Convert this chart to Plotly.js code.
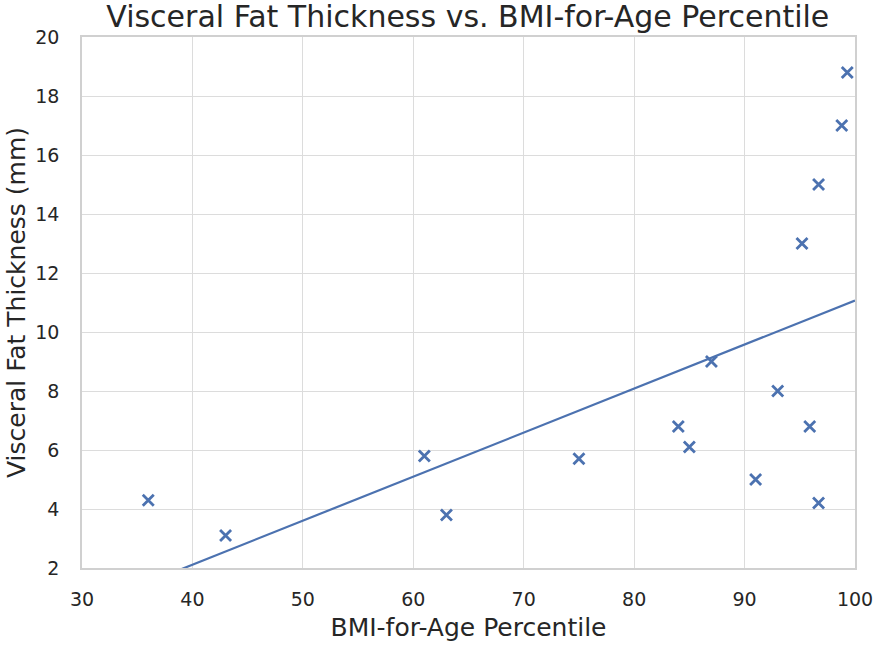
<!DOCTYPE html>
<html>
<head>
<meta charset="utf-8">
<script src="https://cdn.plot.ly/plotly-3.0.1.min.js"></script>
<style>
  html, body { margin: 0; padding: 0; background: #fff; }
  #chart { width: 881px; height: 657px; }
</style>
</head>
<body>
<div id="chart"></div>
<script>
// BMI-for-age percentile vs visceral fat thickness (mm)
const bmiPercentile = [36, 43, 61, 63, 75, 84, 85, 87, 91, 93, 95.2, 95.9, 96.7, 96.7, 98.8, 99.3];
const fatThickness  = [4.3, 3.1, 5.8, 3.8, 5.7, 6.8, 6.1, 9.0, 5.0, 8.0, 13.0, 6.8, 15.0, 4.2, 17.0, 18.8];
const xTicks = [30, 40, 50, 60, 70, 80, 90, 100];
const yTicks = [2, 4, 6, 8, 10, 12, 14, 16, 18, 20];

// least squares fit for the trend line
function linearFit(xs, ys) {
  const n = xs.length;
  const mx = xs.reduce((a, b) => a + b, 0) / n;
  const my = ys.reduce((a, b) => a + b, 0) / n;
  let sxy = 0, sxx = 0;
  for (let i = 0; i < n; i++) {
    sxy += (xs[i] - mx) * (ys[i] - my);
    sxx += (xs[i] - mx) * (xs[i] - mx);
  }
  const slope = sxy / sxx;
  return { slope: slope, intercept: my - slope * mx };
}

const fit = linearFit(bmiPercentile, fatThickness);
const lineX = [xTicks[0], xTicks[xTicks.length - 1]];
const lineY = lineX.map(x => fit.intercept + fit.slope * x);

const blue = '#4c72b0';
const font = 'DejaVu Sans, sans-serif';

const points = {
  x: bmiPercentile,
  y: fatThickness,
  type: 'scatter',
  mode: 'markers',
  marker: { symbol: 'x-thin', size: 11, color: blue, line: { color: blue, width: 2.8 } },
  hoverinfo: 'x+y'
};

const trend = {
  x: lineX,
  y: lineY,
  type: 'scatter',
  mode: 'lines',
  line: { color: blue, width: 2.2 },
  hoverinfo: 'skip'
};

const layout = {
  width: 881,
  height: 657,
  margin: { l: 82, r: 26, t: 37, b: 89 },
  paper_bgcolor: '#fff',
  plot_bgcolor: '#fff',
  showlegend: false,
  font: { family: font, color: '#262626' },
  title: {
    text: 'Visceral Fat Thickness vs. BMI-for-Age Percentile',
    font: { family: font, size: 30, color: '#262626' },
    x: 0.531, xanchor: 'center', y: 1, yanchor: 'top',
    pad: { t: 6 }
  },
  xaxis: {
    range: [30, 100],
    tickvals: xTicks,
    ticks: '',
    ticklabelstandoff: 13,
    tickfont: { size: 19, color: '#262626' },
    showgrid: true, gridcolor: '#dcdcdc', gridwidth: 1.3,
    zeroline: false,
    showline: true, linecolor: '#d0d0d0', linewidth: 1.5, mirror: true,
    title: { text: 'BMI-for-Age Percentile', font: { size: 25, color: '#262626' }, standoff: 10 }
  },
  yaxis: {
    range: [2, 20],
    tickvals: yTicks,
    ticks: '',
    ticklabelstandoff: 17,
    tickfont: { size: 19, color: '#262626' },
    showgrid: true, gridcolor: '#dcdcdc', gridwidth: 1.3,
    zeroline: false,
    showline: true, linecolor: '#d0d0d0', linewidth: 1.5, mirror: true,
    title: { text: 'Visceral Fat Thickness (mm)', font: { size: 25, color: '#262626' }, standoff: 3 }
  }
};

Plotly.newPlot('chart', [trend, points], layout, { displayModeBar: false, responsive: false });
</script>
</body>
</html>
